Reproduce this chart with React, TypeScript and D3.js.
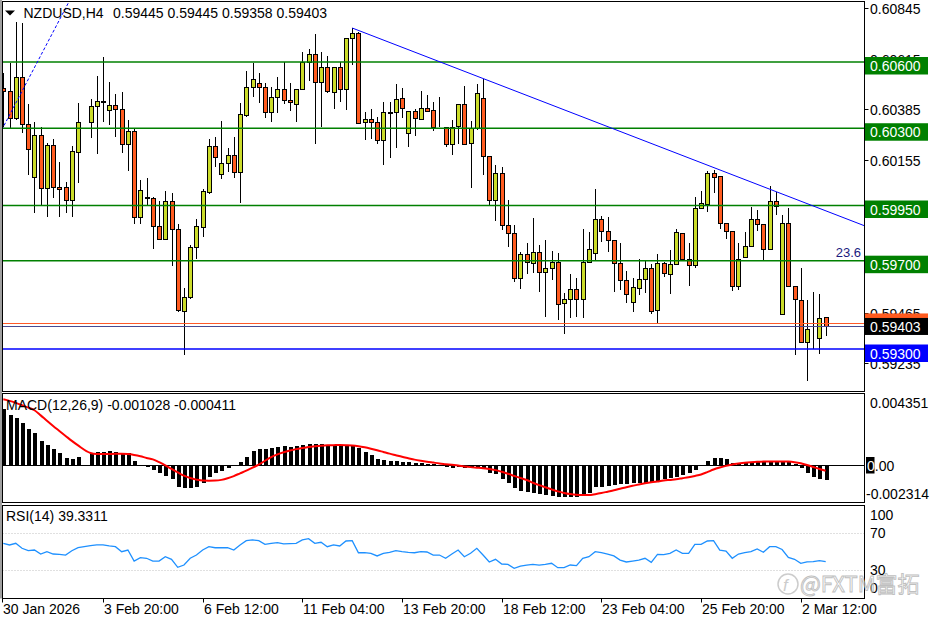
import React from "react";
import * as d3 from "d3";

// NZDUSD H4 candles, bar index 0..132 (bar 13 is absent in the source)
const openP = [
  0.60482, 0.60469, 0.60346, 0.60532, 0.60319, 0.60079, 0.60269, 0.60029, 0.60224, 0.60032,
  0.60034, 0.59975, 0.60192, null, 0.60328, 0.60401, 0.60424, 0.60383, 0.60405, 0.60387,
  0.60229, 0.60288, 0.59898, 0.59989, 0.59984, 0.59857, 0.59798, 0.5997, 0.59844, 0.59472,
  0.59536, 0.59762, 0.59853, 0.60011, 0.6022, 0.60093, 0.60143, 0.60179, 0.60102, 0.6036,
  0.60487, 0.60505, 0.60487, 0.60374, 0.60442, 0.60478, 0.60428, 0.6041, 0.60478, 0.606,
  0.60636, 0.6051, 0.60578, 0.60464, 0.60578, 0.60478, 0.60709, 0.60732, 0.60328, 0.60342,
  0.60328, 0.60247, 0.60374, 0.60374, 0.60437, 0.60278, 0.60378, 0.60342, 0.60392, 0.60383,
  0.6031, 0.60306, 0.60229, 0.6031, 0.6041, 0.60233, 0.60301, 0.60437, 0.60174, 0.59975,
  0.60097, 0.59862, 0.59825, 0.59622, 0.5973, 0.5969, 0.59739, 0.59649, 0.59667, 0.59694,
  0.59508, 0.59526, 0.59572, 0.59526, 0.59694, 0.59735, 0.59889, 0.59835, 0.59794, 0.5969,
  0.59613, 0.59513, 0.59576, 0.59617, 0.59667, 0.59477, 0.5969, 0.5964, 0.59685, 0.59825,
  0.59708, 0.59681, 0.59939, 0.59957, 0.60097, 0.60084, 0.59871, 0.59835, 0.59585, 0.59717,
  0.59767, 0.59889, 0.59866, 0.59753, 0.5997, 0.59459, 0.59871, 0.59585, 0.59522, 0.59332,
  0.59395, 0.5935, 0.59445,
];
const highP = [
  0.6055, 0.60596, 0.60781, 0.60777, 0.6041, 0.60328, 0.60306, 0.60233, 0.60251, 0.60147,
  0.60057, 0.6022, 0.60414, null, 0.60433, 0.60537, 0.60623, 0.6051, 0.60455, 0.60464,
  0.60337, 0.60301, 0.60066, 0.60075, 0.59989, 0.5997, 0.60016, 0.60007, 0.59866, 0.59576,
  0.59771, 0.59889, 0.60025, 0.60251, 0.6026, 0.60333, 0.60211, 0.6026, 0.60414, 0.60559,
  0.60596, 0.6055, 0.60505, 0.60487, 0.60532, 0.606, 0.60505, 0.60478, 0.60645, 0.60659,
  0.60727, 0.60645, 0.60627, 0.60578, 0.606, 0.60709, 0.60754, 0.60736, 0.60374, 0.60387,
  0.60351, 0.60419, 0.60419, 0.605, 0.60482, 0.60378, 0.60387, 0.60469, 0.60451, 0.60419,
  0.60442, 0.60306, 0.60337, 0.6041, 0.60491, 0.60333, 0.605, 0.60523, 0.60174, 0.60133,
  0.60124, 0.59975, 0.59862, 0.59739, 0.5978, 0.59893, 0.59771, 0.59794, 0.59744, 0.59735,
  0.59554, 0.5964, 0.59622, 0.59844, 0.5983, 0.60025, 0.59902, 0.59898, 0.59794, 0.5978,
  0.59653, 0.59622, 0.59708, 0.59703, 0.59685, 0.5973, 0.59694, 0.59749, 0.59844, 0.59825,
  0.5978, 0.59989, 0.60016, 0.60106, 0.60111, 0.60084, 0.59871, 0.59835, 0.5978, 0.5983,
  0.59943, 0.5993, 0.59866, 0.60038, 0.60011, 0.59907, 0.59939, 0.59585, 0.59667, 0.59522,
  0.59558, 0.59549, 0.59445,
];
const lowP = [
  0.60306, 0.60301, 0.60337, 0.60278, 0.60088, 0.59916, 0.59952, 0.59898, 0.59984, 0.59898,
  0.59916, 0.59898, 0.60052, null, 0.60256, 0.60183, 0.60328, 0.60315, 0.6026, 0.60188,
  0.60106, 0.59866, 0.59866, 0.59952, 0.59753, 0.59794, 0.59794, 0.59676, 0.59468, 0.59273,
  0.59526, 0.59708, 0.59807, 0.60002, 0.60124, 0.6007, 0.60102, 0.60075, 0.59961, 0.60351,
  0.60442, 0.60414, 0.60346, 0.60328, 0.60369, 0.6041, 0.60378, 0.60328, 0.60478, 0.60514,
  0.60229, 0.60306, 0.6046, 0.60387, 0.60419, 0.60383, 0.60587, 0.60319, 0.60247, 0.60251,
  0.60229, 0.60133, 0.60165, 0.60211, 0.60346, 0.60215, 0.60265, 0.60342, 0.60378, 0.60288,
  0.60306, 0.60215, 0.60179, 0.60229, 0.60229, 0.60029, 0.60292, 0.60088, 0.59952, 0.5988,
  0.59839, 0.59762, 0.59603, 0.59572, 0.5964, 0.59644, 0.59558, 0.59445, 0.59613, 0.59431,
  0.59368, 0.5944, 0.59445, 0.5944, 0.5969, 0.59699, 0.59785, 0.59739, 0.59558, 0.59567,
  0.59508, 0.59468, 0.59545, 0.59554, 0.59459, 0.59413, 0.59626, 0.59549, 0.59681, 0.59699,
  0.59585, 0.59667, 0.59939, 0.59921, 0.60007, 0.59844, 0.59798, 0.59563, 0.59567, 0.59717,
  0.59767, 0.59835, 0.59703, 0.59753, 0.59907, 0.59459, 0.59585, 0.59273, 0.59327, 0.59155,
  0.593, 0.59277, 0.59358,
];
const closeP = [
  0.60469, 0.60346, 0.60532, 0.60319, 0.60206, 0.60269, 0.60029, 0.60224, 0.60034, 0.60027,
  0.59975, 0.60197, 0.60328, null, 0.60401, 0.60424, 0.60419, 0.60405, 0.60387, 0.60229,
  0.60288, 0.59898, 0.6002, 0.59984, 0.59857, 0.59798, 0.5997, 0.59844, 0.59477, 0.59536,
  0.59762, 0.59857, 0.60016, 0.6022, 0.6017, 0.60143, 0.60179, 0.60102, 0.60365, 0.60487,
  0.60523, 0.60487, 0.60374, 0.60442, 0.60478, 0.60428, 0.60419, 0.60478, 0.606, 0.60636,
  0.6051, 0.60578, 0.60469, 0.60578, 0.60478, 0.60709, 0.60732, 0.60324, 0.60342, 0.60328,
  0.60247, 0.60374, 0.60371, 0.60433, 0.60392, 0.60378, 0.60346, 0.60392, 0.60378, 0.60306,
  0.60308, 0.60229, 0.60306, 0.6041, 0.60229, 0.60301, 0.6046, 0.60174, 0.59975, 0.60097,
  0.59862, 0.59825, 0.59622, 0.5973, 0.59694, 0.59739, 0.59649, 0.59667, 0.59694, 0.59504,
  0.59526, 0.59572, 0.59526, 0.59694, 0.59753, 0.59889, 0.59835, 0.59794, 0.5969, 0.59613,
  0.59549, 0.59581, 0.59617, 0.59667, 0.59472, 0.5969, 0.59644, 0.59685, 0.5983, 0.59708,
  0.59681, 0.59939, 0.59961, 0.60097, 0.60079, 0.59871, 0.59835, 0.59585, 0.59708, 0.59767,
  0.59889, 0.59866, 0.59753, 0.5997, 0.59948, 0.59871, 0.59585, 0.59526, 0.59332, 0.59391,
  0.59393, 0.5944, 0.59403,
];

// MACD(12,26,9): histogram (main) and signal
const macdMain = [
  0.00393, 0.00353, 0.00329, 0.00294, 0.00252, 0.00224, 0.00171, 0.00141, 0.00111, 0.00087,
  0.00047, 0.00044, 0.00054, null, 0.00082, 0.0009, 0.00094, 0.00096, 0.00092, 0.00087,
  0.00082, 0.0003, 0.00002, -0.00016, -0.00035, -0.00059, -0.00078, -0.00101, -0.00153, -0.00164,
  -0.00164, -0.00153, -0.00125, -0.00087, -0.00059, -0.0004, -0.00023, -0.00007, 0.00023, 0.00059,
  0.00099, 0.00111, 0.00115, 0.0012, 0.00127, 0.00134, 0.00129, 0.00134, 0.00141, 0.00148,
  0.00148, 0.00148, 0.00141, 0.00141, 0.00134, 0.00134, 0.00134, 0.00118, 0.00094, 0.00071,
  0.00042, 0.00035, 0.0003, 0.00028, 0.00023, 0.00019, 0.00016, 0.00014, 0.0001, 0.00007,
  0.00001, -0.00012, -0.00021, -0.00012, -0.00019, -0.00023, -0.00023, -0.00028, -0.00054, -0.00063,
  -0.00101, -0.00125, -0.00164, -0.00181, -0.00188, -0.002, -0.00205, -0.00212, -0.00219, -0.00224,
  -0.00228, -0.00228, -0.00224, -0.00219, -0.002, -0.00157, -0.00153, -0.00148, -0.00141, -0.00136,
  -0.00134, -0.00129, -0.00129, -0.00125, -0.00118, -0.00111, -0.00101, -0.00094, -0.00082, -0.00071,
  -0.00059, -0.00035, -0.00008, 0.00028, 0.00049, 0.00049, 0.00042, 0.00012, 0.00014, 0.00016,
  0.00019, 0.00023, 0.0002, 0.0002, 0.00023, 0.00026, 0.00019, 0.0001, -0.00023, -0.00054,
  -0.00087, -0.00098, -0.001028,
];
const macdSignal = [
  0.00463, 0.00452, 0.00438, 0.00422, 0.00405, 0.00386, 0.0035, 0.00312, 0.00275, 0.0024,
  0.00205, 0.0017, 0.00138, null, 0.00085, 0.00078, 0.00077, 0.00078, 0.00079, 0.00079,
  0.00077, 0.00071, 0.00062, 0.0005, 0.0004, 0.0002, -0.00002, -0.00028, -0.00052, -0.00075,
  -0.00092, -0.00103, -0.0011, -0.00111, -0.0011, -0.00105, -0.00094, -0.00078, -0.00059, -0.0004,
  -0.00019, 0.00002, 0.0003, 0.00055, 0.00075, 0.0009, 0.00102, 0.00112, 0.0012, 0.00127,
  0.00132, 0.00136, 0.00139, 0.0014, 0.00141, 0.0014, 0.00138, 0.00133, 0.00125, 0.00115,
  0.00104, 0.00092, 0.0008, 0.00069, 0.00058, 0.00048, 0.00038, 0.0003, 0.00023, 0.00017,
  0.00011, 0.00006, 0.00001, -0.00004, -0.0001, -0.00015, -0.00019, -0.00023, -0.00029, -0.00036,
  -0.00048, -0.00062, -0.00077, -0.00092, -0.00106, -0.00125, -0.00142, -0.00157, -0.00172, -0.00186,
  -0.00197, -0.00205, -0.0021, -0.00212, -0.00212, -0.00206, -0.00198, -0.00188, -0.00178, -0.00167,
  -0.00157, -0.00147, -0.00137, -0.00129, -0.00122, -0.00116, -0.0011, -0.00105, -0.001, -0.00093,
  -0.00086, -0.00077, -0.00067, -0.0005, -0.00032, -0.00018, -0.00006, 0.00003, 0.0001, 0.00016,
  0.0002, 0.00023, 0.00024, 0.00025, 0.00025, 0.00025, 0.00024, 0.0002, 0.00012, 0.0,
  -0.00014, -0.00028, -0.000411,
];

// RSI(14)
const rsi14 = [
  59.2, 57.4, 59.2, 53.8, 51.2, 51.9, 47.6, 50.1, 47.6, 47.3,
  46.5, 51.2, 54.4, null, 56.6, 57.4, 57.4, 56.3, 55.5, 50.1,
  51.9, 40.0, 43.6, 43.0, 40.0, 40.0, 44.7, 41.9, 33.2, 35.7,
  43.0, 46.5, 51.9, 55.5, 54.4, 54.4, 54.4, 51.9, 57.4, 62.0,
  62.8, 62.0, 58.1, 59.2, 60.0, 58.5, 58.9, 59.2, 62.8, 64.2,
  59.2, 60.3, 55.5, 57.4, 56.3, 61.7, 62.0, 49.0, 49.0, 48.4,
  45.5, 48.4, 49.4, 51.2, 50.1, 49.4, 49.0, 50.1, 49.8, 46.5,
  46.5, 43.0, 47.6, 51.9, 44.7, 48.4, 53.8, 46.5, 39.0, 41.9,
  36.8, 36.4, 32.2, 34.6, 35.7, 36.4, 35.7, 36.4, 37.6, 32.8,
  32.8, 35.7, 35.0, 43.0, 44.7, 50.1, 49.0, 47.6, 45.5, 41.1,
  39.0, 40.0, 41.1, 43.0, 38.6, 47.3, 46.9, 48.4, 51.9, 48.4,
  48.4, 58.1, 58.1, 61.7, 62.0, 51.9, 50.8, 43.0, 47.6, 49.0,
  50.1, 53.0, 49.5, 55.5, 55.5, 52.5, 43.9, 41.9, 37.6, 39.0,
  39.3, 40.4, 39.3311,
];

const timeTickBars = [16, 32, 48, 64, 80, 96, 112, 128];
const timeTickLabels = ["3 Feb 20:00", "6 Feb 12:00", "11 Feb 04:00", "13 Feb 20:00",
  "18 Feb 12:00", "23 Feb 04:00", "25 Feb 20:00", "2 Mar 12:00"];
const firstDateLabel = "30 Jan 2026";

const priceTicks = [0.60845, 0.60615, 0.60385, 0.60155, 0.59925, 0.59695, 0.59465, 0.59235];
const greenLevels = [0.606, 0.603, 0.5995, 0.597];
const blueLevels = [0.593];
const bidPrice = 0.59403;
const askPrice = 0.59418;
const fibLevel = 0.597;
const fibLabel = "23.6";
const trendDown = [[56, 0.60754], [132, 0.59926]];
const trendUp = [[0, 0.60306], [10, 0.60844]];
const macdTicks = [0.004351, -0.002314];
const rsiLevels = [70, 30];

const W = 936;
const H = 624;
const FONT = "'Liberation Sans', Arial, sans-serif";
const BULL = "#cbdc2a";
const BEAR = "#ff5b1f";

const App = () => {
  const left = 2.5;
  const right = 864.5;
  const main = { top: 1.5, bottom: 391.5 };
  const macdP = { top: 393.5, bottom: 502.5 };
  const rsiP = { top: 505.5, bottom: 598.5 };

  const x = d3.scaleLinear().domain([0, 132]).range([3.3, 825.7]);
  const yP = d3.scaleLinear().domain([0.593, 0.606]).range([349, 62]);
  const yM = d3.scaleLinear().domain([0, 0.004351]).range([465, 403.3]);
  const yR = d3.scaleLinear().domain([30, 70]).range([570.3, 533.3]);

  const px = (i: number) => Math.round(x(i)) + 0.5;
  const snap = (v: number) => Math.round(v) + 0.5;

  const pts = (arr: (number | null)[]) =>
    arr.map((v, i) => [i, v] as [number, number | null]).filter((d) => d[1] != null) as [number, number][];

  const rsiLine = d3.line<[number, number]>().x((d) => x(d[0])).y((d) => yR(d[1]))(pts(rsi14)) || "";
  const sigLine = d3
    .line<[number, number]>()
    .x((d) => x(d[0]))
    .y((d) => yM(d[1]))
    .curve(d3.curveMonotoneX)(pts(macdSignal)) || "";

  const trendPath = (t: number[][], i0: number, i1: number) => {
    const [a, b] = t;
    const slope = (b[1] - a[1]) / (b[0] - a[0]);
    const p = (i: number) => a[1] + slope * (i - a[0]);
    return `M${x(i0)},${yP(p(i0))}L${x(i1)},${yP(p(i1))}`;
  };
  const xEnd = x.invert(right);

  return (
    <svg
      width={W}
      height={H}
      style={{ position: "absolute", left: 0, top: 0, background: "#fff", display: "block" }}
      fontFamily={FONT}
      fontSize={14}
    >
      <defs>
        <clipPath id="clipMain">
          <rect x={left} y={main.top} width={right - left} height={main.bottom - main.top} />
        </clipPath>
        <clipPath id="clipMacd">
          <rect x={left} y={macdP.top} width={right - left} height={macdP.bottom - macdP.top} />
        </clipPath>
      </defs>
      <rect width={W} height={H} fill="#fff" />

      {/* main chart */}
      <g clipPath="url(#clipMain)">
        {openP.map((o, i) => {
          if (o == null) return null;
          const c = closeP[i] as number;
          const h = highP[i] as number;
          const l = lowP[i] as number;
          const cx = px(i);
          const top = snap(yP(Math.max(o, c)));
          const bot = snap(yP(Math.min(o, c)));
          return (
            <g key={i}>
              <line x1={cx} x2={cx} y1={Math.round(yP(h))} y2={Math.round(yP(l))} stroke="#000" />
              <rect
                x={cx - 2}
                y={top}
                width={4}
                height={Math.max(bot - top, 0)}
                fill={c >= o ? BULL : BEAR}
                stroke="#000"
                strokeWidth={1}
              />
            </g>
          );
        })}

        {greenLevels.map((v) => (
          <line key={v} x1={left} x2={right} y1={yP(v)} y2={yP(v)} stroke="#008000" strokeWidth={1.6} />
        ))}
        {blueLevels.map((v) => (
          <line key={v} x1={left} x2={right} y1={yP(v)} y2={yP(v)} stroke="#0000ff" strokeWidth={1.4} />
        ))}
        <line x1={left} x2={right} y1={snap(yP(askPrice))} y2={snap(yP(askPrice))} stroke="#ff5a28" />
        <line x1={left} x2={right} y1={snap(yP(bidPrice))} y2={snap(yP(bidPrice))} stroke="#4a4a90" />
        <path d={trendPath(trendDown, 56, xEnd)} stroke="#0000ff" strokeWidth={1} fill="none" />
        <path d={trendPath(trendUp, -1, 14)} stroke="#0000ff" strokeWidth={1} strokeDasharray="3,2" fill="none" />
        <text x={861} y={yP(fibLevel) - 4} textAnchor="end" fontSize={13} fill="#1a1a80">
          {fibLabel}
        </text>
      </g>

      {/* header */}
      <polygon points="5,10.5 15,10.5 10,15.5" fill="#000" />
      <text x={23.5} y={18}>NZDUSD,H4</text>
      <text x={113} y={18}>
        {[openP[132], highP[132], lowP[132], closeP[132]].map((v) => (v as number).toFixed(5)).join(" ")}
      </text>

      {/* MACD */}
      <g clipPath="url(#clipMacd)">
        <line x1={left} x2={right} y1={snap(yM(0))} y2={snap(yM(0))} stroke="#000" />
        {macdMain.map((v, i) =>
          v == null ? null : (
            <rect
              key={i}
              x={Math.round(x(i)) - 1.5}
              y={Math.min(yM(v), yM(0))}
              width={4}
              height={Math.abs(yM(v) - yM(0))}
              fill="#000"
              shapeRendering="crispEdges"
            />
          )
        )}
        <path d={sigLine} stroke="#ff0000" strokeWidth={2} fill="none" />
      </g>
      <text x={6} y={410}>MACD(12,26,9) {(macdMain[132] as number).toFixed(6)} {(macdSignal[132] as number).toFixed(6)}</text>

      {/* RSI */}
      {rsiLevels.map((v) => (
        <line key={v} x1={left} x2={right} y1={snap(yR(v))} y2={snap(yR(v))} stroke="#c0c0c0" strokeDasharray="1,2" />
      ))}
      <path d={rsiLine} stroke="#1e90ff" strokeWidth={1.3} fill="none" />
      <text x={6} y={521}>RSI(14) {(rsi14[132] as number).toFixed(4)}</text>

      {/* frames */}
      {[main, macdP, rsiP].map((p, k) => (
        <rect key={k} x={left} y={p.top} width={right - left} height={p.bottom - p.top} fill="none" stroke="#000" />
      ))}
      <line x1={1} x2={1} y1={0} y2={rsiP.bottom} stroke="#a0a0a0" strokeWidth={2} />

      {/* right price axis */}
      {priceTicks.map((v) => (
        <g key={v}>
          <line x1={right} x2={right + 4} y1={snap(yP(v))} y2={snap(yP(v))} stroke="#000" />
          <text x={870} y={yP(v) + 6}>{v.toFixed(5)}</text>
        </g>
      ))}
      <rect x={865} y={yP(askPrice) - 9.5} width={63} height={17.5} fill="#ff5a1e" />
      <rect x={865} y={yP(bidPrice) - 8.3} width={63} height={17} fill="#000" />
      <text x={870} y={yP(bidPrice) + 5.3} fill="#fff">{bidPrice.toFixed(5)}</text>
      {greenLevels.map((v) => (
        <g key={v}>
          <rect x={865} y={yP(v) - 5} width={63} height={17.5} fill="#008000" />
          <text x={870} y={yP(v) + 9} fill="#fff">{v.toFixed(5)}</text>
        </g>
      ))}
      {blueLevels.map((v) => (
        <g key={v}>
          <rect x={865} y={yP(v) - 4.5} width={63} height={17.5} fill="#0000ff" />
          <text x={870} y={yP(v) + 9.5} fill="#fff">{v.toFixed(5)}</text>
        </g>
      ))}

      {/* MACD axis */}
      <text x={870} y={yM(macdTicks[0]) + 5}>{macdTicks[0].toFixed(6)}</text>
      <rect x={866} y={yM(0) - 8} width={8.5} height={16.5} fill="#000" />
      <text x={867} y={yM(0) + 6}>
        <tspan fill="#fff">0</tspan>
        <tspan>.00</tspan>
      </text>
      <text x={866} y={yM(macdTicks[1]) + 1}>{macdTicks[1].toFixed(6)}</text>

      {/* RSI axis */}
      <text x={870} y={520}>100</text>
      {rsiLevels.map((v) => (
        <text key={v} x={870} y={yR(v) + 5}>{v}</text>
      ))}
      <text x={870} y={593}>0</text>

      {/* time axis */}
      <line x1={left} x2={left} y1={rsiP.bottom} y2={rsiP.bottom + 4} stroke="#000" />
      <text x={3} y={614}>{firstDateLabel}</text>
      {timeTickBars.map((b, k) => (
        <g key={b}>
          <line x1={px(b)} x2={px(b)} y1={rsiP.bottom} y2={rsiP.bottom + 4} stroke="#000" />
          <text x={px(b) + 0.5} y={614}>{timeTickLabels[k]}</text>
        </g>
      ))}

      {/* watermark */}
      <g opacity={0.85}>
        <circle cx={788} cy={584} r={10} fill="none" stroke="#c4c4c4" strokeWidth={1.5} />
        <text x={783} y={591} fontSize={17} fill="#c4c4c4" fontStyle="italic">f</text>
        <text
          x={800}
          y={592}
          fontSize={22}
          fontFamily="'Noto Sans CJK SC', 'Noto Sans', sans-serif"
          fill="#ffffff"
          fillOpacity={0.6}
          stroke="#b4b4b4"
          strokeWidth={0.9}
        >
          @FXTM富拓
        </text>
      </g>
    </svg>
  );
};

export default App;
